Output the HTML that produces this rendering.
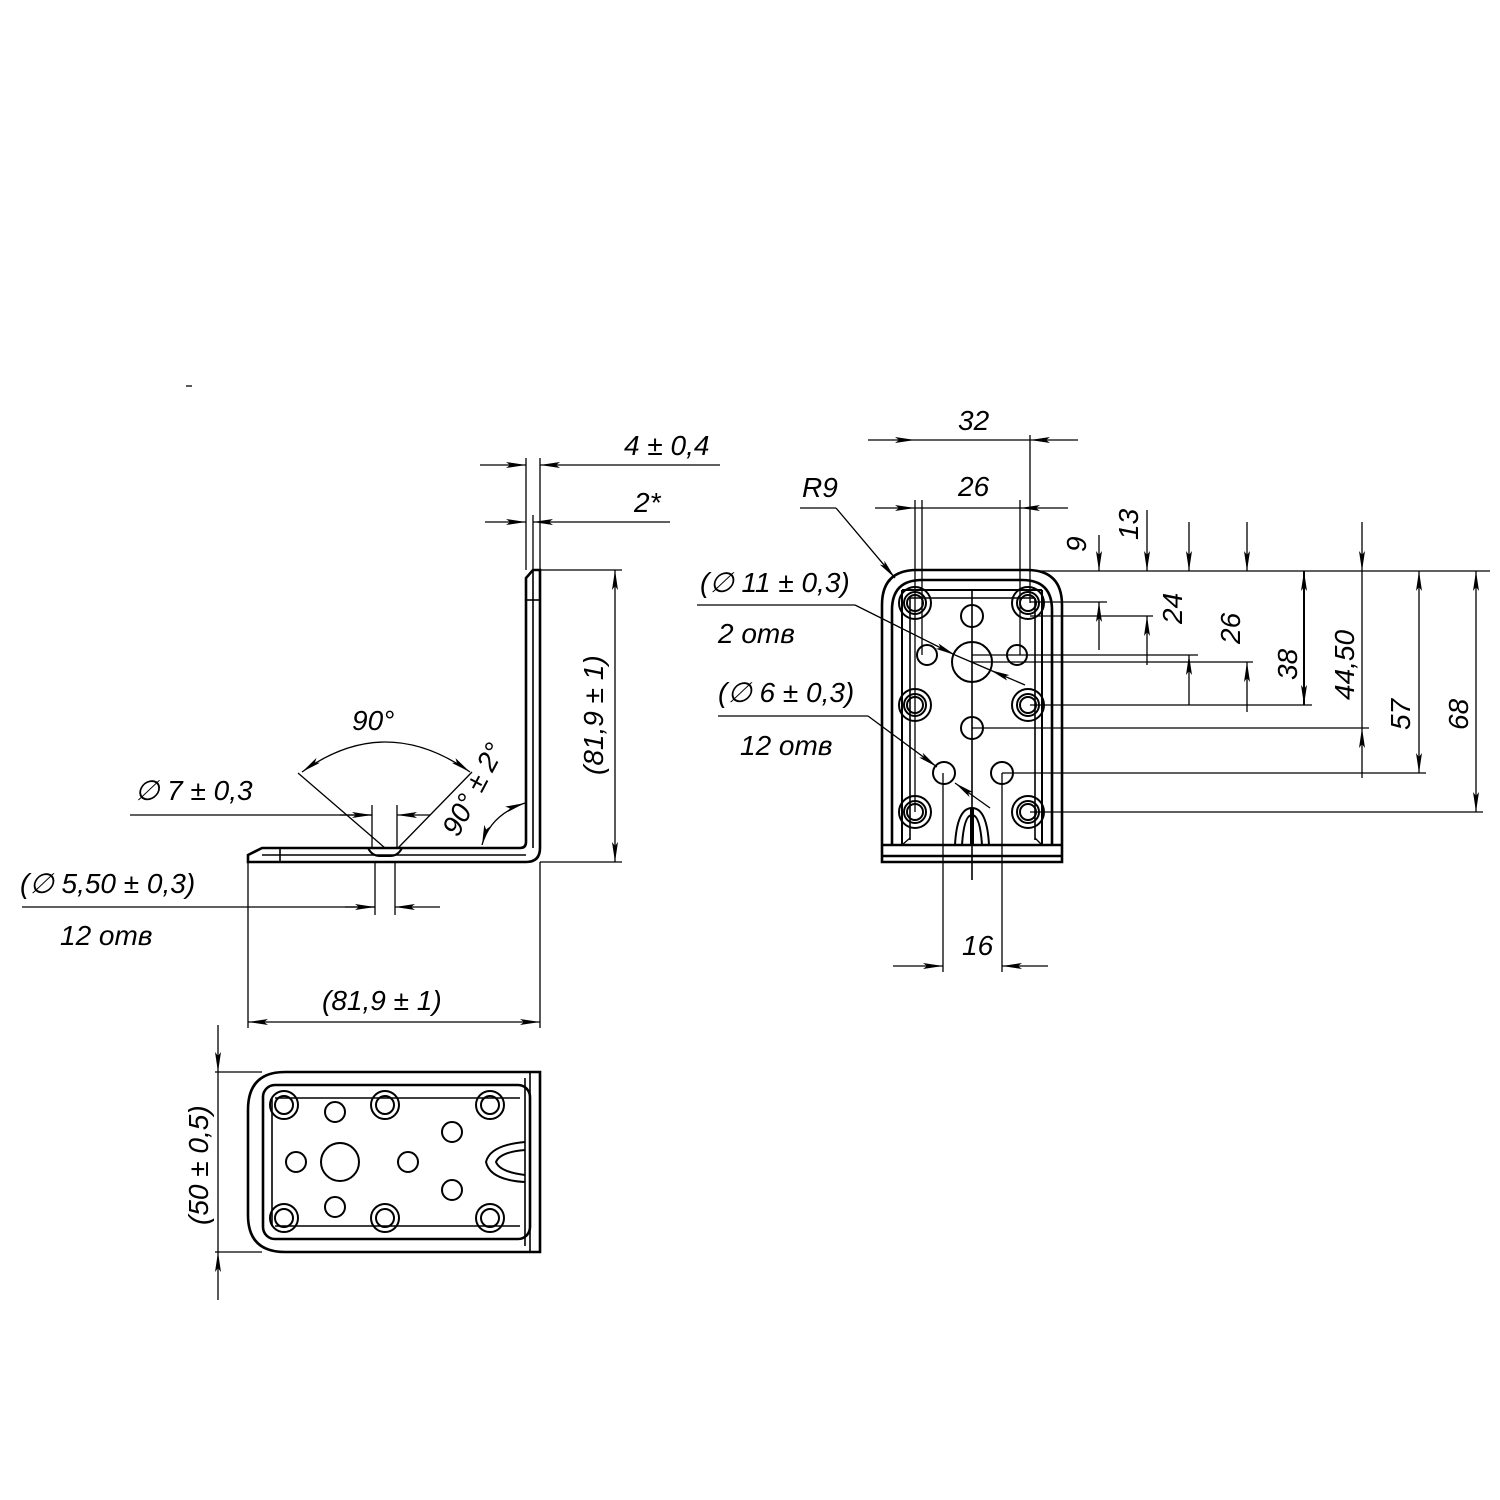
<!DOCTYPE html>
<html><head><meta charset="utf-8"><style>
html,body{margin:0;padding:0;background:#fff}
svg{display:block}
text{font-family:"Liberation Sans",sans-serif;font-style:italic;font-size:28px;fill:#000;stroke:none}
</style></head><body>
<svg width="1500" height="1500" viewBox="0 0 1500 1500" xmlns="http://www.w3.org/2000/svg">
<defs>
<marker id="a" viewBox="0 0 20 6" refX="20" refY="3" markerWidth="20" markerHeight="6" markerUnits="userSpaceOnUse" orient="auto-start-reverse">
<path d="M0,0 L20,3 L0,6 L4,3 Z" fill="#000" stroke="none"/>
</marker>
</defs>
<g fill="none" stroke="#000" stroke-width="1.3">
<line x1="186" y1="386" x2="192" y2="386"/>
<g stroke-width="2.6">
<path d="M248,862 L526,862 Q540,862 540,848 L540,570 L533,570 L526,578 L526,842 Q526,848 520,848 L262,848 L248,855 Z"/>
</g>
<line x1="533" y1="570" x2="533" y2="848" stroke-width="1.6"/>
<line x1="262" y1="855" x2="526" y2="855" stroke-width="1.6"/>
<line x1="526" y1="600" x2="540" y2="600" stroke-width="1.6"/>
<line x1="280" y1="848" x2="280" y2="862" stroke-width="1.6"/>
<path d="M368,848 q4,8 12,8 h10 q8,0 12,-8" stroke-width="2"/>
<line x1="375" y1="862" x2="375" y2="915"/><line x1="395" y1="862" x2="395" y2="915"/>
<line x1="372" y1="805" x2="372" y2="848"/><line x1="397" y1="805" x2="397" y2="848"/>
<line x1="385" y1="848" x2="298" y2="773"/><line x1="398" y1="848" x2="472" y2="772"/>
<path d="M302,772 Q385,712 470,772" marker-start="url(#a)" marker-end="url(#a)"/>
<text x="352" y="730">90°</text>
<path d="M482,845 Q490,815 525,803" marker-start="url(#a)" marker-end="url(#a)"/>
<text transform="translate(458,838) rotate(-62)">90° ± 2°</text>
<line x1="130" y1="815" x2="372" y2="815"/>
<line x1="340" y1="815" x2="372" y2="815" marker-end="url(#a)"/>
<line x1="430" y1="815" x2="397" y2="815" marker-end="url(#a)"/>
<text x="135" y="800">∅ 7 ± 0,3</text>
<line x1="22" y1="907" x2="375" y2="907"/>
<line x1="345" y1="907" x2="375" y2="907" marker-end="url(#a)"/>
<line x1="440" y1="907" x2="395" y2="907" marker-end="url(#a)"/>
<text x="20" y="893">(∅ 5,50 ± 0,3)</text>
<text x="60" y="945">12 отв</text>
<line x1="526" y1="458" x2="526" y2="570"/><line x1="540" y1="458" x2="540" y2="570"/>
<line x1="533" y1="515" x2="533" y2="570"/>
<line x1="480" y1="465" x2="526" y2="465" marker-end="url(#a)"/>
<line x1="720" y1="465" x2="540" y2="465" marker-end="url(#a)"/>
<text x="624" y="455">4 ± 0,4</text>
<line x1="485" y1="522" x2="526" y2="522" marker-end="url(#a)"/>
<line x1="670" y1="522" x2="533" y2="522" marker-end="url(#a)"/>
<text x="634" y="512">2*</text>
<line x1="540" y1="570" x2="622" y2="570"/><line x1="540" y1="862" x2="622" y2="862"/>
<line x1="615" y1="570" x2="615" y2="862" marker-start="url(#a)" marker-end="url(#a)"/>
<text transform="translate(603,775) rotate(-90)">(81,9 ± 1)</text>
<line x1="248" y1="862" x2="248" y2="1028"/><line x1="540" y1="862" x2="540" y2="1028"/>
<line x1="248" y1="1022" x2="540" y2="1022" marker-start="url(#a)" marker-end="url(#a)"/>
<text x="322" y="1010">(81,9 ± 1)</text>
<g stroke-width="2.6">
<path d="M540,1072 L285,1072 Q248,1072 248,1110 L248,1215 Q248,1252 285,1252 L540,1252 Z"/>
<rect x="263" y="1085" width="267" height="154" rx="12"/>
</g>
<line x1="530" y1="1072" x2="530" y2="1252" stroke-width="1.6"/>
<line x1="525" y1="1078" x2="525" y2="1246" stroke-width="1.6"/>
<line x1="275" y1="1098" x2="520" y2="1098" stroke-width="1.6"/>
<line x1="275" y1="1226" x2="520" y2="1226" stroke-width="1.6"/>
<line x1="272" y1="1098" x2="272" y2="1226" stroke-width="1.6"/>
<g stroke-width="2">
<circle cx="284" cy="1105" r="14"/><circle cx="284" cy="1105" r="9"/>
<circle cx="385" cy="1105" r="14"/><circle cx="385" cy="1105" r="9"/>
<circle cx="490" cy="1105" r="14"/><circle cx="490" cy="1105" r="9"/>
<circle cx="284" cy="1218" r="14"/><circle cx="284" cy="1218" r="9"/>
<circle cx="385" cy="1218" r="14"/><circle cx="385" cy="1218" r="9"/>
<circle cx="490" cy="1218" r="14"/><circle cx="490" cy="1218" r="9"/>
<circle cx="335" cy="1112" r="10"/><circle cx="335" cy="1207" r="10"/>
<circle cx="296" cy="1162" r="10"/><circle cx="340" cy="1162" r="19"/>
<circle cx="408" cy="1162" r="10"/><circle cx="452" cy="1132" r="10"/><circle cx="452" cy="1190" r="10"/>
<path d="M525,1142 Q490,1145 486,1162 Q490,1180 525,1182"/>
<path d="M525,1150 Q500,1152 496,1162 Q500,1172 525,1175"/>
</g>
<line x1="215" y1="1072" x2="262" y2="1072"/><line x1="215" y1="1252" x2="262" y2="1252"/>
<line x1="218" y1="1025" x2="218" y2="1072" marker-end="url(#a)"/>
<line x1="218" y1="1300" x2="218" y2="1252" marker-end="url(#a)"/>
<line x1="218" y1="1072" x2="218" y2="1252"/>
<text transform="translate(208,1225) rotate(-90)">(50 ± 0,5)</text>
<g stroke-width="2.6">
<path d="M882,862 L882,605 Q882,570 917,570 L1027,570 Q1062,570 1062,605 L1062,862 Z"/>
<path d="M892,845 L892,610 Q892,580 922,580 L1022,580 Q1052,580 1052,610 L1052,845"/>
<line x1="882" y1="845" x2="1062" y2="845"/>
<line x1="882" y1="856" x2="1062" y2="856"/>
</g>
<line x1="902" y1="590" x2="1042" y2="590" stroke-width="2"/>
<line x1="902" y1="590" x2="902" y2="845" stroke-width="2"/>
<line x1="1042" y1="590" x2="1042" y2="845" stroke-width="2"/>
<line x1="910" y1="598" x2="1035" y2="598" stroke-width="1.6"/>
<line x1="910" y1="598" x2="910" y2="840" stroke-width="1.6"/>
<line x1="1035" y1="598" x2="1035" y2="840" stroke-width="1.6"/>
<line x1="902" y1="845" x2="910" y2="838"/><line x1="1042" y1="845" x2="1035" y2="838"/>
<g stroke-width="2">
<circle cx="915" cy="603" r="16"/><circle cx="915" cy="603" r="11"/><circle cx="915" cy="603" r="8"/>
<circle cx="1028" cy="603" r="16"/><circle cx="1028" cy="603" r="11"/><circle cx="1028" cy="603" r="8"/>
<circle cx="915" cy="705" r="16"/><circle cx="915" cy="705" r="11"/><circle cx="915" cy="705" r="8"/>
<circle cx="1028" cy="705" r="16"/><circle cx="1028" cy="705" r="11"/><circle cx="1028" cy="705" r="8"/>
<circle cx="915" cy="812" r="16"/><circle cx="915" cy="812" r="11"/><circle cx="915" cy="812" r="8"/>
<circle cx="1028" cy="812" r="16"/><circle cx="1028" cy="812" r="11"/><circle cx="1028" cy="812" r="8"/>
<circle cx="972" cy="616" r="11"/><circle cx="972" cy="662" r="20"/>
<circle cx="927" cy="655" r="10"/><circle cx="1017" cy="655" r="10"/>
<circle cx="972" cy="728" r="11"/><circle cx="944" cy="773" r="11"/><circle cx="1002" cy="773" r="11"/>
<path d="M955,845 Q957,808 972,808 Q987,808 989,845"/>
<path d="M962,845 Q964,815 972,815 Q980,815 982,845"/>
</g>
<line x1="972" y1="808" x2="972" y2="845" stroke-width="4"/>
<line x1="972" y1="590" x2="972" y2="880" stroke-width="1.6"/>
<line x1="915" y1="500" x2="915" y2="812"/><line x1="1030" y1="435" x2="1030" y2="603"/>
<line x1="922" y1="500" x2="922" y2="655"/><line x1="1020" y1="500" x2="1020" y2="655"/>
<line x1="943" y1="773" x2="943" y2="972"/><line x1="1002" y1="773" x2="1002" y2="972"/>
<line x1="868" y1="440" x2="915" y2="440" marker-end="url(#a)"/>
<line x1="1078" y1="440" x2="1030" y2="440" marker-end="url(#a)"/>
<line x1="915" y1="440" x2="1030" y2="440"/>
<text x="958" y="430">32</text>
<line x1="875" y1="508" x2="915" y2="508" marker-end="url(#a)"/>
<line x1="1068" y1="508" x2="1020" y2="508" marker-end="url(#a)"/>
<line x1="915" y1="508" x2="1020" y2="508"/>
<text x="958" y="496">26</text>
<line x1="800" y1="508" x2="836" y2="508"/>
<line x1="836" y1="508" x2="895" y2="578" marker-end="url(#a)"/>
<text x="802" y="497">R9</text>
<line x1="697" y1="605" x2="855" y2="605"/>
<line x1="855" y1="605" x2="955" y2="655" marker-end="url(#a)"/>
<line x1="1025" y1="685" x2="990" y2="670" marker-end="url(#a)"/>
<line x1="955" y1="655" x2="990" y2="670"/>
<text x="700" y="592">(∅ 11 ± 0,3)</text>
<text x="718" y="643">2 отв</text>
<line x1="718" y1="716" x2="868" y2="716"/>
<line x1="868" y1="716" x2="937" y2="767" marker-end="url(#a)"/>
<line x1="990" y1="808" x2="955" y2="783" marker-end="url(#a)"/>
<text x="718" y="702">(∅ 6 ± 0,3)</text>
<text x="740" y="755">12 отв</text>
<line x1="893" y1="966" x2="943" y2="966" marker-end="url(#a)"/>
<line x1="1048" y1="966" x2="1002" y2="966" marker-end="url(#a)"/>
<text x="962" y="955">16</text>
<line x1="1040" y1="571" x2="1490" y2="571"/>
<line x1="1030" y1="602" x2="1107" y2="602"/>
<line x1="1030" y1="616" x2="1153" y2="616"/>
<line x1="972" y1="655" x2="1198" y2="655"/>
<line x1="972" y1="662" x2="1253" y2="662"/>
<line x1="1030" y1="705" x2="1312" y2="705"/>
<line x1="972" y1="728" x2="1369" y2="728"/>
<line x1="1002" y1="773" x2="1426" y2="773"/>
<line x1="1030" y1="812" x2="1483" y2="812"/>
<line x1="1099" y1="535" x2="1099" y2="571" marker-end="url(#a)"/>
<line x1="1099" y1="650" x2="1099" y2="602" marker-end="url(#a)"/>
<line x1="1147" y1="510" x2="1147" y2="571" marker-end="url(#a)"/>
<line x1="1147" y1="665" x2="1147" y2="616" marker-end="url(#a)"/>
<line x1="1189" y1="522" x2="1189" y2="571" marker-end="url(#a)"/>
<line x1="1189" y1="705" x2="1189" y2="655" marker-end="url(#a)"/>
<line x1="1247" y1="522" x2="1247" y2="571" marker-end="url(#a)"/>
<line x1="1247" y1="712" x2="1247" y2="662" marker-end="url(#a)"/>
<line x1="1304" y1="571" x2="1304" y2="705" marker-start="url(#a)" marker-end="url(#a)" stroke-width="2"/>
<line x1="1362" y1="522" x2="1362" y2="571" marker-end="url(#a)"/>
<line x1="1362" y1="778" x2="1362" y2="728" marker-end="url(#a)"/>
<line x1="1362" y1="571" x2="1362" y2="728"/>
<line x1="1419" y1="571" x2="1419" y2="773" marker-start="url(#a)" marker-end="url(#a)"/>
<line x1="1476" y1="571" x2="1476" y2="812" marker-start="url(#a)" marker-end="url(#a)"/>
</g>
<text transform="translate(1086,552) rotate(-90)">9</text>
<text transform="translate(1138,540) rotate(-90)">13</text>
<text transform="translate(1182,624) rotate(-90)">24</text>
<text transform="translate(1240,644) rotate(-90)">26</text>
<text transform="translate(1297,680) rotate(-90)">38</text>
<text transform="translate(1354,700) rotate(-90)">44,50</text>
<text transform="translate(1410,730) rotate(-90)">57</text>
<text transform="translate(1468,730) rotate(-90)">68</text>
</svg>
</body></html>
